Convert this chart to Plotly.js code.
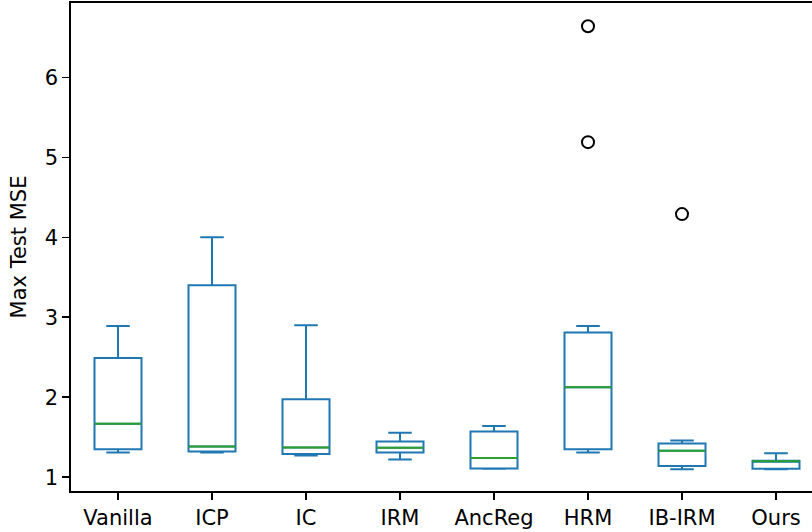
<!DOCTYPE html>
<html>
<head>
<meta charset="utf-8">
<script src="https://cdn.plot.ly/plotly-3.0.1.min.js"></script>
<style>html,body{margin:0;padding:0;background:#fff;}</style>
</head>
<body>
<div id="chart" style="width:812px;height:532px;"></div>
<script>
const categories = ["Vanilla", "ICP", "IC", "IRM", "AncReg", "HRM", "IB-IRM", "Ours"];
const lowerWhisker = [1.31, 1.31, 1.27, 1.22, 1.105, 1.31, 1.10, 1.10];
const q1Values     = [1.35, 1.32, 1.29, 1.31, 1.11, 1.35, 1.14, 1.105];
const medians      = [1.67, 1.385, 1.37, 1.367, 1.24, 2.125, 1.33, 1.20];
const q3Values     = [2.49, 3.40, 1.975, 1.446, 1.57, 2.81, 1.42, 1.205];
const upperWhisker = [2.89, 4.00, 2.90, 1.555, 1.64, 2.89, 1.46, 1.30];
const outlierCats  = ["HRM", "HRM", "IB-IRM"];
const outlierVals  = [6.64, 5.19, 4.29];
const yTicks = [1, 2, 3, 4, 5, 6];

const pos = categories.map((c, i) => i);
const boxHalf = 0.25;

const boxTrace = {
  type: "box",
  x: pos,
  q1: q1Values,
  median: medians,
  q3: q3Values,
  lowerfence: lowerWhisker,
  upperfence: upperWhisker,
  width: 0.5,
  whiskerwidth: 0.5,
  fillcolor: "rgba(0,0,0,0)",
  line: {color: "#1f77b4", width: 2},
  boxpoints: false,
  hoverinfo: "skip",
  showlegend: false
};

const mx = [], my = [];
medians.forEach((m, i) => {
  mx.push(i - boxHalf, i + boxHalf, null);
  my.push(m, m, null);
});
const medianTrace = {
  type: "scatter", mode: "lines", x: mx, y: my,
  line: {color: "#2ca02c", width: 2},
  hoverinfo: "skip", showlegend: false
};

const outlierTrace = {
  type: "scatter", mode: "markers",
  x: outlierCats.map(c => categories.indexOf(c)),
  y: outlierVals,
  marker: {symbol: "circle-open", size: 12, color: "#000", line: {color: "#000", width: 2}},
  hoverinfo: "skip", showlegend: false
};

const font = {family: "DejaVu Sans", size: 21, color: "#000"};

const layout = {
  width: 812, height: 532,
  margin: {l: 71, r: 0, t: 3, b: 41},
  paper_bgcolor: "#fff", plot_bgcolor: "#fff",
  font: font,
  showlegend: false,
  xaxis: {
    range: [-0.5, 7.383],
    tickmode: "array", tickvals: pos, ticktext: categories,
    ticks: "outside", ticklen: 7, tickwidth: 1.6, tickcolor: "#000",
    showline: true, mirror: true, linecolor: "#000", linewidth: 1.6,
    showgrid: false, zeroline: false,
    tickfont: font
  },
  yaxis: {
    range: [0.8275, 6.93],
    tickmode: "array", tickvals: yTicks, ticktext: yTicks.map(String),
    ticks: "outside", ticklen: 7, tickwidth: 1.6, tickcolor: "#000",
    showline: true, mirror: false, linecolor: "#000", linewidth: 1.6,
    showgrid: false, zeroline: false,
    tickfont: font,
    title: {text: "Max Test MSE", font: font, standoff: 12}
  }
};

Plotly.newPlot("chart", [boxTrace, medianTrace, outlierTrace], layout, {displayModeBar: false, staticPlot: true});
</script>
</body>
</html>
